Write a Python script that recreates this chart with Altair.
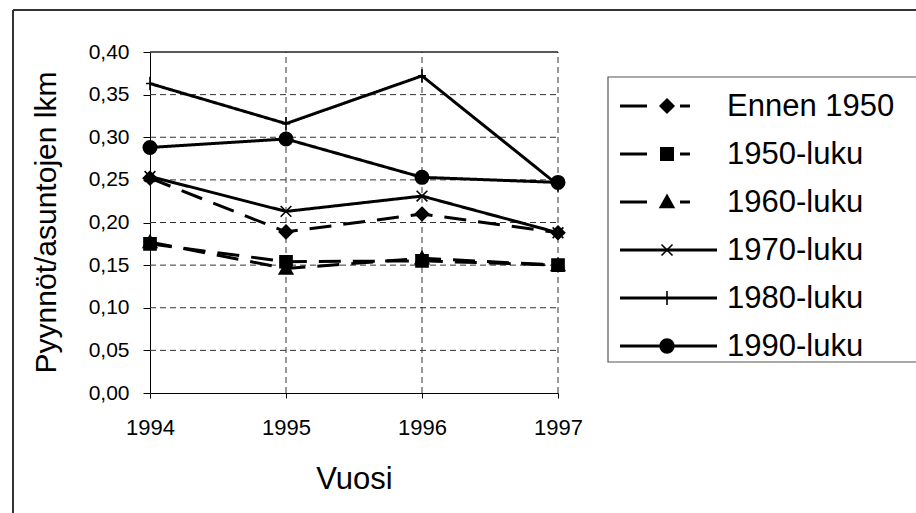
import altair as alt
import pandas as pd

YEARS = [1994, 1995, 1996, 1997]
SERIES = ["Ennen 1950", "1950-luku", "1960-luku", "1970-luku", "1980-luku", "1990-luku"]
ENNEN_1950 = [0.252, 0.189, 0.210, 0.188]
LUKU_1950 = [0.175, 0.154, 0.155, 0.150]
LUKU_1960 = [0.177, 0.146, 0.158, 0.150]
LUKU_1970 = [0.254, 0.213, 0.231, 0.188]
LUKU_1980 = [0.363, 0.316, 0.372, 0.244]
LUKU_1990 = [0.288, 0.298, 0.253, 0.247]
Y_TICKS = [0.00, 0.05, 0.10, 0.15, 0.20, 0.25, 0.30, 0.35, 0.40]
Y_GRID = [0.05, 0.10, 0.15, 0.20, 0.25, 0.30, 0.35]
X_GRID = [1995, 1996, 1997]
Y_MIN, Y_MAX = 0.0, 0.40

VALUES = [ENNEN_1950, LUKU_1950, LUKU_1960, LUKU_1970, LUKU_1980, LUKU_1990]
rows = []
for name, vals in zip(SERIES, VALUES):
    for yr, v in zip(YEARS, vals):
        rows.append({"series": name, "year": yr, "value": v})
df = pd.DataFrame(rows)
legend_df = pd.DataFrame({"series": SERIES})
hgrid_df = pd.DataFrame({"y": Y_GRID, "x0": YEARS[0], "x1": YEARS[-1]})
vgrid_df = pd.DataFrame({"x": X_GRID, "y0": Y_MIN, "y1": Y_MAX})
top_df = pd.DataFrame({"y": [Y_MAX], "x0": [YEARS[0]], "x1": [YEARS[-1]]})

FONT = "Liberation Sans"
W, H = 903, 503

xs = alt.Scale(domain=[YEARS[0], YEARS[-1]], range=[137, 545], nice=False, zero=False)
ys = alt.Scale(domain=[Y_MIN, Y_MAX], range=[383, 42], nice=False, zero=False)

SHAPES = [
    "M0,-1L1,0L0,1L-1,0Z",
    "M-0.9,-0.9H0.9V0.9H-0.9Z",
    "M0,-1L1,0.8H-1Z",
    "M-0.8,-0.8L0.8,0.8M-0.8,0.8L0.8,-0.8",
    "M0,-1V1M-0.6,0H0.6",
    "circle",
]
shape_scale = alt.Scale(domain=SERIES, range=SHAPES)
dash_scale = alt.Scale(domain=SERIES, range=[[22, 12], [22, 12], [22, 12], [1, 0], [1, 0], [1, 0]])
width_scale = alt.Scale(domain=SERIES, range=[3, 3, 3, 2, 2, 2])

x_axis = alt.Axis(
    values=YEARS, format="d", offset=-(H - 383), grid=False,
    labelFlush=False, labelOverlap=False,
    tickSize=5, tickColor="black", domainColor="black", labelColor="black",
    labelFont=FONT, labelFontSize=22, labelPadding=19,
    title="Vuosi", titleFont=FONT, titleFontSize=31, titleFontWeight="normal",
    titleColor="black", titleY=86, titleBaseline="middle",
)
y_axis = alt.Axis(
    values=Y_TICKS, offset=-137, grid=False,
    labelFlush=False, labelOverlap=False,
    labelExpr="replace(format(datum.value, '.2f'), '.', ',')",
    tickSize=7, tickColor="black", domainColor="black", labelColor="black",
    labelFont=FONT, labelFontSize=21, labelPadding=14,
    title="Pyynnöt/asuntojen lkm", titleFont=FONT, titleFontSize=30,
    titleFontWeight="normal", titleColor="black",
    titleX=-104, titleY=212, titleAngle=-90, titleAlign="center", titleBaseline="middle",
)

hgrid = alt.Chart(hgrid_df).mark_rule(color="#333", strokeWidth=1, strokeDash=[6, 4]).encode(
    x=alt.X("x0:Q", scale=xs, axis=x_axis),
    x2="x1:Q",
    y=alt.Y("y:Q", scale=ys, axis=y_axis),
)
vgrid = alt.Chart(vgrid_df).mark_rule(color="#333", strokeWidth=1, strokeDash=[6, 4]).encode(
    x=alt.X("x:Q", scale=xs),
    y=alt.Y("y0:Q", scale=ys),
    y2="y1:Q",
)
top = alt.Chart(top_df).mark_rule(color="#222", strokeWidth=1.5).encode(
    x=alt.X("x0:Q", scale=xs),
    x2="x1:Q",
    y=alt.Y("y:Q", scale=ys),
)

lines = alt.Chart(df).mark_line(color="black").encode(
    x=alt.X("year:Q", scale=xs),
    y=alt.Y("value:Q", scale=ys),
    detail="series:N",
    strokeDash=alt.StrokeDash("series:N", scale=dash_scale, legend=None),
    strokeWidth=alt.StrokeWidth("series:N", scale=width_scale, legend=None),
)
points = alt.Chart(df).mark_point(
    filled=True, color="black", stroke="black", strokeWidth=1.6, opacity=1, size=180
).encode(
    x=alt.X("year:Q", scale=xs),
    y=alt.Y("value:Q", scale=ys),
    shape=alt.Shape("series:N", scale=shape_scale, legend=None),
)

# outer frame (top and left edges only; the rest runs past the picture)
frame_df = pd.DataFrame({"k": [0]})
frame_top = alt.Chart(frame_df).mark_rule(color="#333", strokeWidth=2).encode(
    x=alt.value(0), x2=alt.value(W + 10), y=alt.value(0)
)
frame_left = alt.Chart(frame_df).mark_rule(color="#333", strokeWidth=2).encode(
    x=alt.value(0), y=alt.value(0), y2=alt.value(H + 10)
)

# custom legend
ly = alt.Scale(type="point", domain=SERIES, range=[96, 336], padding=0)
legend_box = alt.Chart(frame_df).mark_rect(
    fill="white", fillOpacity=0, stroke="#555", strokeWidth=1.2
).encode(
    x=alt.value(595), x2=alt.value(920), y=alt.value(67), y2=alt.value(352)
)
leg_dash = alt.Scale(domain=SERIES, range=[[27, 33, 10, 100]] * 3 + [[1, 0]] * 3)
leg_lines = alt.Chart(legend_df).mark_rule(color="black").encode(
    x=alt.value(607), x2=alt.value(704),
    y=alt.Y("series:N", scale=ly, axis=None),
    strokeDash=alt.StrokeDash("series:N", scale=leg_dash, legend=None),
    strokeWidth=alt.StrokeWidth("series:N", scale=width_scale, legend=None),
)
leg_points = alt.Chart(legend_df).mark_point(
    filled=True, color="black", stroke="black", strokeWidth=1.6, opacity=1, size=190
).encode(
    x=alt.value(654),
    y=alt.Y("series:N", scale=ly, axis=None),
    shape=alt.Shape("series:N", scale=shape_scale, legend=None),
)
leg_text = alt.Chart(legend_df).mark_text(
    align="left", baseline="middle", font=FONT, fontSize=31, color="black", dy=1
).encode(
    x=alt.value(714),
    y=alt.Y("series:N", scale=ly, axis=None),
    text="series:N",
)

plot = alt.layer(hgrid, vgrid, top, lines, points)
legend = alt.layer(legend_box, leg_lines, leg_points, leg_text)

chart = alt.layer(frame_top, frame_left, plot, legend).resolve_scale(
    y="independent", strokeDash="independent"
).properties(
    width=W, height=H,
    autosize=alt.AutoSizeParams(type="none"),
    padding={"left": 13, "top": 10, "right": 0, "bottom": 0},
    background="white",
).configure_view(stroke=None)

chart.save("out.html", embed_options={"renderer": "svg", "actions": False})
